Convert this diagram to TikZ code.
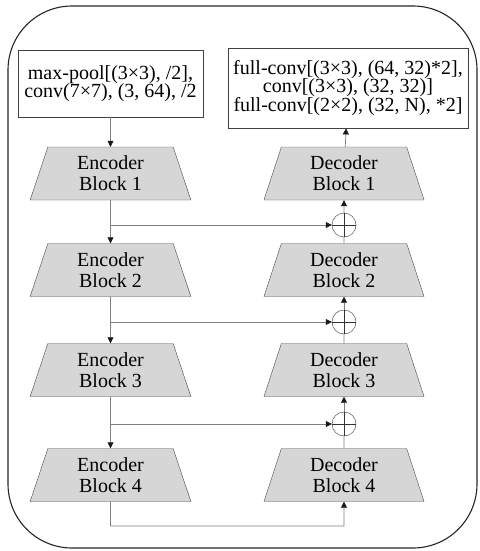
\documentclass[tikz,border=0pt]{standalone}
\usepackage{fontspec}
\setmainfont{Liberation Serif}
\usetikzlibrary{shapes.geometric, arrows.meta}

\tikzset{
  blockshape/.style={trapezium, trapezium angle=75, trapezium stretches=true,
    minimum width=161pt, minimum height=53pt, inner sep=0pt, draw=black!70,
    fill=black!16, align=center, font=\fontsize{20}{21}\selectfont},
  convbox/.style={draw=black!75, thick, fill=white, align=center, inner sep=0pt,
    font=\fontsize{20}{18.5}\selectfont},
  plus/.style={circle, draw=black!80, minimum size=24pt, inner sep=0pt},
  link/.style={draw=black!50, line width=0.7pt},
  tip/.style={-{Triangle[width=6pt, length=6pt, black!90]}}
}

\begin{document}
\begin{tikzpicture}[x=1pt, y=-1pt]
  \useasboundingbox (0, 0) rectangle (479, 551);

  % outer frame
  \draw[black!85, line width=1.1pt, rounded corners=64pt] (8, 6) rectangle (477, 548);

  % input and output layers
  \node[convbox, minimum width=185pt, minimum height=67pt] (stem) at (110.5, 83.5)
    {max-pool[(3×3), /2],\\conv(7×7), (3, 64), /2};
  \node[convbox, minimum width=240pt, minimum height=80pt] (head) at (348, 88)
    {full-conv[(3×3), (64, 32)*2],\\conv[(3×3), (32, 32)]\\full-conv[(2×2), (32, N), *2]};

  % encoder and decoder blocks
  \node[blockshape] (enc1) at (110.5, 173.5) {Encoder\\Block 1};
  \node[blockshape] (enc2) at (110.5, 270) {Encoder\\Block 2};
  \node[blockshape] (enc3) at (110.5, 370) {Encoder\\Block 3};
  \node[blockshape] (enc4) at (110.5, 475) {Encoder\\Block 4};
  \node[blockshape] (dec1) at (344, 173.5) {Decoder\\Block 1};
  \node[blockshape] (dec2) at (344, 270) {Decoder\\Block 2};
  \node[blockshape] (dec3) at (344, 370) {Decoder\\Block 3};
  \node[blockshape] (dec4) at (344, 475) {Decoder\\Block 4};

  % adders
  \node[plus] (add1) at (344, 225) {};
  \node[plus] (add2) at (344, 322) {};
  \node[plus] (add3) at (344, 424) {};
  \foreach \a in {add1, add2, add3}
    \draw[black!80] (\a.north) -- (\a.south) (\a.west) -- (\a.east);

  % branch points on the encoder side
  \coordinate (br1) at (110.5, 225);
  \coordinate (br2) at (110.5, 322);
  \coordinate (br3) at (110.5, 424);
  \coordinate (low) at (110.5, 526);
  \coordinate (lowr) at (344, 526);

  % encoder path
  \draw[link, tip] (stem) -- (enc1);
  \draw[link, tip] (enc1) -- (enc2);
  \draw[link, tip] (enc2) -- (enc3);
  \draw[link, tip] (enc3) -- (enc4);

  % skip connections
  \draw[link, tip] (br1) -- (add1);
  \draw[link, tip] (br2) -- (add2);
  \draw[link, tip] (br3) -- (add3);
  \draw[link, tip] (enc4.south) -- (low) -- (lowr) -- (dec4.south);

  % decoder path
  \draw[link] (dec4) -- (add3);
  \draw[link, tip] (add3) -- (dec3);
  \draw[link] (dec3) -- (add2);
  \draw[link, tip] (add2) -- (dec2);
  \draw[link] (dec2) -- (add1);
  \draw[link, tip] (add1) -- (dec1);
  \draw[link, tip] (dec1) -- (head);
\end{tikzpicture}
\end{document}
